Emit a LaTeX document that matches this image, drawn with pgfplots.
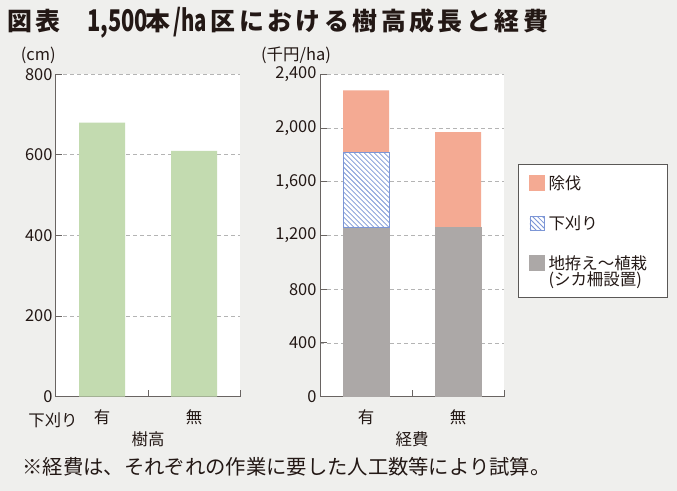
\documentclass[border=0pt]{standalone}
\usepackage{fontspec}
\setmainfont{Noto Sans CJK JP}
\usepackage{graphicx}
\usepackage{pgfplots}
\pgfplotsset{compat=1.18}
\usetikzlibrary{patterns}
\pgfdeclarepatternformonly{hatchnw}{\pgfqpoint{-1pt}{-1pt}}{\pgfqpoint{6pt}{6pt}}{\pgfqpoint{5pt}{5pt}}{%
  \pgfsetlinewidth{0.75pt}%
  \pgfpathmoveto{\pgfqpoint{0pt}{5pt}}%
  \pgfpathlineto{\pgfqpoint{5.1pt}{-0.1pt}}%
  \pgfusepath{stroke}}
\definecolor{bgc}{RGB}{239,239,237}
\definecolor{greenc}{RGB}{195,219,176}
\definecolor{pinkc}{RGB}{244,170,147}
\definecolor{grayc}{RGB}{172,168,167}
\definecolor{hatchc}{RGB}{124,150,214}
\definecolor{spinec}{RGB}{105,100,98}
\definecolor{gridc}{RGB}{180,180,180}
\definecolor{txtc}{RGB}{35,24,21}
\definecolor{legc}{RGB}{90,88,86}
\newcommand\fs{\fontsize{16.5}{18}\selectfont\color{txtc}}
\newcommand\tcjk{\fontsize{25}{27}\selectfont\bfseries\addfontfeatures{LetterSpace=14}\color{txtc}}
\newcommand\tlat{\fontsize{30}{32}\selectfont\bfseries\color{txtc}}
\pgfplotsset{myax/.style={
  scale only axis, width=184bp, height=322.4bp, anchor=south west,
  xmin=0, xmax=2, ymin=0, enlargelimits=false,
  axis x line*=bottom, axis y line*=left,
  axis line style={spinec, line width=1bp},
  axis background/.style={fill=white},
  xtick={1,2}, xticklabels={,},
  tick align=inside, major tick length=6.5bp,
  tick style={spinec, line width=1bp},
  ymajorgrids,
  major grid style={gridc, line width=0.9bp, dash pattern=on 4bp off 3bp},
  ticklabel style={font=\fs},
  xticklabel style={yshift=-9bp},
  extra x tick style={major tick length=0pt, grid=none},
  /pgf/number format/assume math mode=true,
  scaled y ticks=false,
  xlabel style={at={(axis description cs:0.5,-0.1321)}, anchor=center, font=\fs},
}}
\begin{document}
\begin{tikzpicture}
\fill[bgc] (0,0) rectangle (677bp,491bp);
% left: tree height (cm)
\begin{axis}[myax, at={(56bp,94.3bp)}, ymax=800, ytick={0,200,...,800},
  extra x ticks={0.5,1.5}, extra x tick labels={有,無}, xlabel={樹高}]
\addplot[ybar, bar width=0.5, bar shift=0pt, fill=greenc, draw=none] coordinates {(0.5,680) (1.5,610)};
\end{axis}
% right: cost (thousand yen/ha); bars are cumulative totals drawn back to front
% 有: 地拵え～植栽 1260 + 下刈り 560 + 除伐 460 = 2280 ; 無: 1260 + 0 + 710 = 1970
\begin{axis}[myax, at={(320bp,94.3bp)}, ymax=2400, ytick={0,400,...,2400},
  extra x ticks={0.5,1.5}, extra x tick labels={有,無}, xlabel={経費},
  legend style={at={(axis description cs:1.0745,0.7218)}, anchor=north west,
    draw=legc, line width=0.9bp, fill=white, font=\fs,
    inner xsep=11bp, inner ysep=9bp, row sep=21bp, column sep=2bp,
    cells={anchor=base west, inner xsep=0bp, inner ysep=0bp}}]
% 除伐 (top of stack)
\addplot[ybar, bar width=0.5, bar shift=0pt, fill=pinkc, draw=none, forget plot] coordinates {(0.5,2280) (1.5,1970)};
% 下刈り
\addplot[ybar, bar width=0.5, bar shift=0pt, fill=white, draw=none,
  postaction={pattern=hatchnw, pattern color=hatchc}, forget plot] coordinates {(0.5,1820)};
% 地拵え～植栽（シカ柵設置）
\addplot[ybar, bar width=0.5, bar shift=0pt, fill=grayc, draw=grayc, line width=0.5bp, forget plot] coordinates {(0.5,1260) (1.5,1260)};
% outline of the 下刈り segment (1260 to 1820)
\addplot[hatchc, line width=1bp, line join=miter, mark=none, forget plot] coordinates {(0.25,1260) (0.25,1820) (0.75,1820) (0.75,1260) (0.25,1260)};
\addlegendimage{legend image code/.code={\fill[pinkc] (0bp,-1bp) rectangle (14.5bp,13.5bp);}}
\addlegendentry{\makebox[106bp][l]{除伐}}
\addlegendimage{legend image code/.code={\draw[hatchc, line width=0.6bp, fill=white, postaction={pattern=hatchnw, pattern color=hatchc}] (0.3bp,-0.7bp) rectangle (14.2bp,13.2bp);}}
\addlegendentry{\makebox[106bp][l]{下刈り}}
\addlegendimage{legend image code/.code={\fill[grayc] (0bp,15.4bp) rectangle (14.5bp,29.9bp);}}
\addlegendentry{\begin{tabular}[b]{@{}l@{}}地拵え～植栽\\[-3.5bp](シカ柵設置)\rule[-6bp]{0pt}{1bp}\end{tabular}}
\end{axis}
\node[font=\fs] at (38.3bp,436bp) {(cm)};
\node[font=\fs] at (296bp,436bp) {(千円/ha)};
\node[font=\fs] at (53bp,70.3bp) {下刈り};
% title
\node[anchor=base west, inner sep=0pt, font=\tcjk] at (7bp,460.5bp) {図表};
\node[anchor=base west, inner sep=0pt, font=\tlat] at (87bp,459.3bp) {\scalebox{0.73}[1]{1,500}};
\node[anchor=base west, inner sep=0pt, font=\tcjk] at (145.5bp,460.5bp) {本};
\node[anchor=base west, inner sep=0pt, font=\tlat] at (173bp,459.3bp) {\scalebox{0.68}[1]{/ha}};
\node[anchor=base west, inner sep=0pt, font=\tcjk] at (210.5bp,460.5bp) {区における樹高成長と経費};
% note
\node[anchor=west, font=\fontsize{20.4}{22}\selectfont\color{txtc}] at (19bp,24bp) {※経費は、それぞれの作業に要した人工数等により試算。};
\pgfresetboundingbox
\path[use as bounding box] (0,0) rectangle (677bp,491bp);
\end{tikzpicture}
\end{document}
